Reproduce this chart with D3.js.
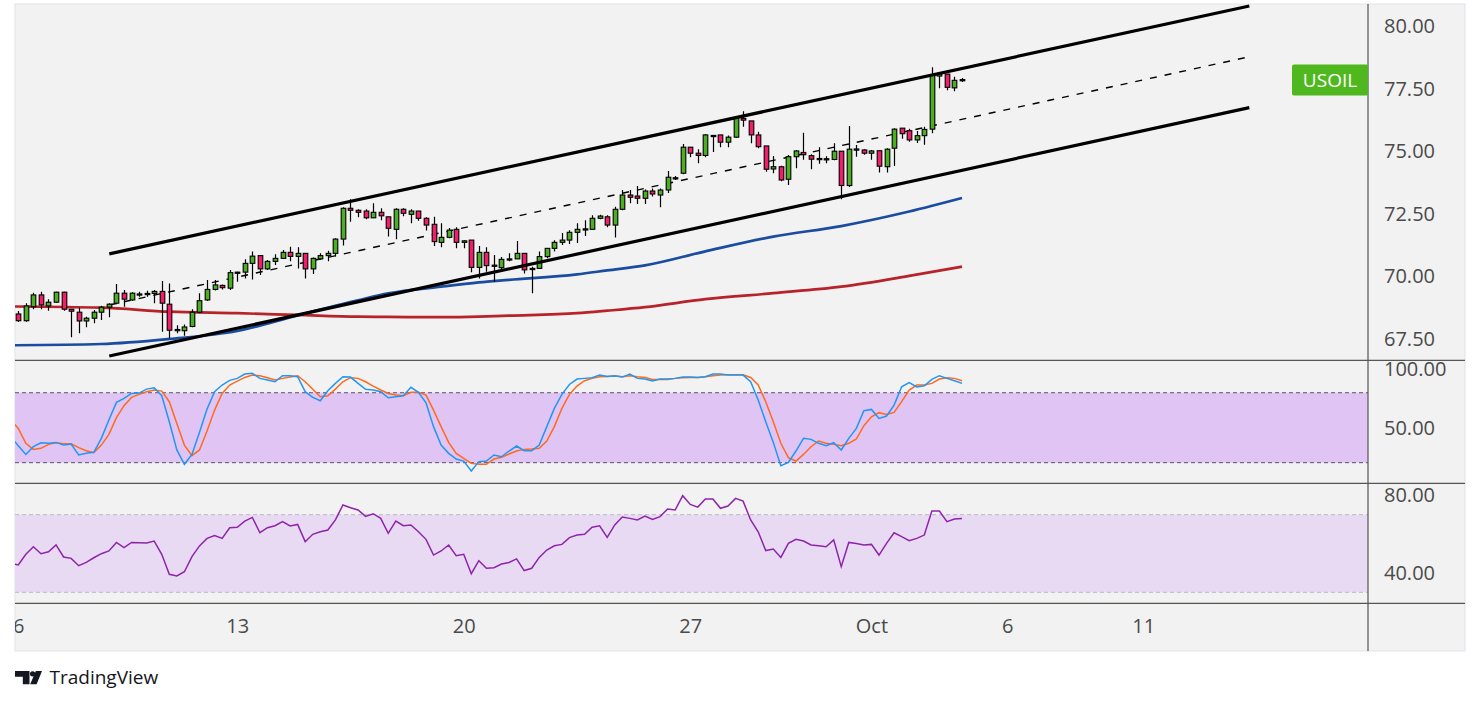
<!DOCTYPE html>
<html><head><meta charset="utf-8">
<script src="https://cdn.jsdelivr.net/npm/d3@7"></script>
<style>
html,body{margin:0;padding:0;background:#ffffff;}
svg{display:block;font-family:"Open Sans","Noto Sans",sans-serif;}
</style></head>
<body>
<svg id="chart" width="1479" height="704"></svg>
<script>
// ---------------- DATA ----------------
const symbol = "USOIL";
// 4h candles, bar index 1..126
const opens = [68.50,68.23,68.79,69.26,68.82,68.97,69.37,68.69,68.57,68.22,68.33,68.57,68.77,68.93,69.33,69.06,69.28,69.30,69.32,69.40,
68.89,67.88,67.83,68.00,68.57,69.06,69.48,69.64,69.53,70.15,70.17,70.52,70.83,70.30,70.60,70.72,70.96,70.80,70.92,70.30,
70.70,70.83,70.92,71.49,72.72,72.64,72.61,72.34,72.56,72.38,71.88,72.68,72.48,72.61,72.32,72.08,71.36,71.56,71.88,71.36,
71.45,70.36,70.96,70.43,70.35,70.68,70.70,70.92,70.30,70.32,70.79,71.12,71.36,71.45,71.76,71.88,71.88,72.32,72.38,72.05,
72.68,73.25,73.21,73.12,73.41,73.25,73.45,73.93,74.12,75.16,74.92,74.83,75.63,75.65,75.36,75.56,76.31,76.21,75.65,75.21,
74.29,74.38,73.88,74.78,74.95,74.82,74.70,74.69,74.67,75.00,73.63,75.08,75.05,74.92,75.02,74.38,75.12,75.92,75.82,75.45,
75.62,75.88,78.00,78.08,77.53,77.84];
const highs = [68.62,68.93,69.35,69.39,69.09,69.39,69.39,68.70,68.75,68.39,68.66,68.83,68.93,69.70,69.46,69.37,69.39,69.43,69.46,69.82,
69.72,68.05,68.08,68.69,69.33,69.86,69.86,69.68,70.26,70.19,70.68,70.99,70.83,70.65,70.88,71.05,71.18,71.16,70.92,70.75,
70.92,71.02,71.52,72.76,73.08,72.68,72.68,72.92,72.72,72.38,72.72,72.72,72.68,72.61,72.36,72.38,72.12,71.93,71.96,71.44,
71.45,71.21,71.16,70.85,70.77,70.92,71.41,70.92,70.39,70.99,71.12,71.44,71.73,71.84,72.12,72.24,72.44,72.46,72.44,72.78,
73.45,73.45,73.61,73.47,73.51,73.51,74.21,74.01,75.29,75.16,75.08,75.69,75.65,75.65,75.63,76.35,76.60,76.21,75.78,75.21,
74.81,74.42,74.85,75.05,75.74,74.88,75.16,74.80,75.32,75.00,76.01,75.25,75.08,75.05,75.02,75.12,75.92,75.92,75.90,75.81,
75.98,78.35,78.11,78.08,77.97,77.92];
const lows = [68.18,68.19,68.69,68.69,68.63,68.95,68.63,67.57,67.73,67.97,68.13,68.26,68.37,68.89,68.79,69.02,69.19,69.19,68.93,67.79,
67.53,67.73,67.63,67.97,68.53,69.02,69.44,69.48,69.46,69.79,69.92,69.88,70.06,70.26,70.46,70.69,70.61,70.32,69.92,70.10,
70.65,70.61,70.79,71.23,72.18,72.36,72.28,72.34,72.24,71.59,71.48,72.40,72.12,72.22,71.83,71.21,71.16,71.52,71.12,71.12,
70.17,69.92,70.19,69.79,70.26,70.61,70.70,70.12,69.33,70.30,70.72,70.99,71.25,71.29,71.33,71.61,71.86,72.28,71.96,71.55,
72.64,72.92,72.89,72.89,73.19,72.76,73.33,73.85,74.08,74.76,74.52,74.76,74.97,75.16,75.16,75.53,75.98,75.32,75.12,74.18,
74.12,73.80,73.65,74.32,74.66,74.28,74.50,74.52,74.64,73.08,73.57,74.78,74.86,74.66,74.15,74.15,74.41,75.50,75.38,75.33,
75.26,75.72,77.51,77.43,77.39,77.76];
const closes = [68.23,68.82,69.26,68.86,68.97,69.37,68.69,68.61,68.22,68.33,68.57,68.77,68.89,69.33,69.09,69.33,69.30,69.32,69.40,68.93,
67.85,67.83,67.98,68.57,69.03,69.48,69.66,69.55,70.15,70.17,70.52,70.81,70.30,70.60,70.72,70.96,70.80,70.92,70.30,70.72,
70.83,70.92,71.49,72.72,72.64,72.56,72.34,72.56,72.42,71.92,72.68,72.52,72.61,72.32,72.05,71.39,71.56,71.85,71.36,71.42,
70.36,70.96,70.43,70.45,70.68,70.70,70.92,70.26,70.32,70.79,71.12,71.36,71.45,71.76,71.88,71.90,72.32,72.41,72.05,72.68,
73.25,73.16,73.12,73.41,73.29,73.45,73.96,73.94,75.16,74.92,74.83,75.65,75.62,75.36,75.56,76.31,76.24,75.65,75.18,74.28,
74.38,73.85,74.78,75.01,74.86,74.68,74.71,74.70,75.00,73.63,75.08,75.09,74.92,75.01,74.40,75.08,75.88,75.70,75.45,75.62,
75.87,78.04,78.08,77.55,77.83,77.86];

// moving averages, read at selected bars
const maBars  = [0,12,21,30,38,46,50,57,62,66,75,79,84,92,101,110,119,126];
const maBlue  = [67.25,67.30,67.50,67.82,68.44,69.04,69.32,69.59,69.76,69.86,70.08,70.24,70.44,71.00,71.59,72.01,72.59,73.13];
const maRed   = [68.80,68.75,68.59,68.53,68.46,68.39,68.38,68.37,68.39,68.43,68.53,68.63,68.77,69.09,69.33,69.59,70.02,70.39];

// channel (drawn trend lines), endpoints as [bar, price]
const channelBars = [13.05, 164.05];
const channelUpper = [70.90, 80.80];
const channelLower = [66.82, 76.74];
const channelMid   = [68.86, 78.77];

// indicators, bar index 0..126
const stochK = [42,34.6,27.1,33.7,37.1,36.6,37.4,35.1,36,26.6,28,28.9,40.9,56.6,71.7,75.1,79.4,79.7,83.1,84.3,77.4,
55.1,30.9,18.6,27.1,46,66,80.9,86.6,90.6,92.3,96,96.6,92.3,90.9,89.4,94.6,94.6,93.7,80.9,76,
73.1,81.7,88,93.7,93.4,88,82.9,82.3,80.9,75.7,76.6,77.4,84.6,80.3,71.4,50.9,35.1,28,23.1,21.4,
12.9,20.9,21.4,26.6,25.1,30,34.3,30.3,30.3,35.1,50.9,66.6,78.6,87.1,91.7,92.3,92.9,95.1,94,94.6,
93.4,96,92.3,91.7,90,91.7,91.7,92.3,93.4,93.4,93.1,93.7,96,96,95.1,95.1,95.1,89.4,73.7,55.1,
37.4,17.4,20.3,30,40.9,40,36.6,34.6,37.1,30.9,40.9,49.4,64.6,65.7,58,60,69.4,85.1,88.6,84.9,
86,91.4,94.6,92.3,90.3,88];
const stochD = [56.6,49.4,36.6,31.4,32.3,35.7,37.1,36.3,36.3,32.9,30.3,28.6,35.1,44.3,58.6,68.9,76,78.6,80.9,82.3,81.4,
72.3,53.7,35.1,26,30.9,47.1,65.1,79.4,86.6,90,93.1,95.1,94.6,92.9,90.9,92.3,93.4,94.6,89.4,82.9,
76.6,77.4,83.1,89.4,92.9,92.3,89.4,85.7,82.3,79.4,78,77.4,80.3,80.3,78,65.1,50.9,37.4,28,23.7,
19.4,18.6,18.6,23.1,24.6,27.4,30,31.4,31.7,32.3,38.6,50.9,66.6,78.6,85.7,90.3,92.3,93.7,94,94.3,
93.7,94.6,93.7,93.1,91.4,91.4,91.4,92.3,92.9,93.1,93.1,93.7,94.6,95.1,95.4,95.4,95.4,93.1,86.6,72.3,
55.1,36.6,24.3,21.4,27.1,33.7,38.6,36.6,35.7,34.6,36.6,40.3,51.7,59.4,62.9,61.4,63.1,72.3,82.3,86.6,
86.6,88,91.7,92.9,92.3,90.3];
const rsi = [45,44.1,49.6,53.5,49.9,50.9,54.4,48.2,47.5,43.7,45.4,47.8,49.9,51.3,55.7,53,55.7,55.6,55.4,56.4,49.6,
39.3,38.4,40.6,48.4,53.9,57.8,59.2,57.8,63.3,63.5,66.7,68.6,60.7,63.3,64.3,66.4,64.2,65,56.1,59.9,
61.2,62.1,67.3,75,73.6,72.4,69.1,70.5,68.1,60.4,66.7,64.3,64.7,61.2,57.3,49.2,51.3,54.4,48.9,49.6,
39.6,46.3,42.4,42.7,44.6,45.4,47.2,41.2,42.4,48,51.8,54,54.7,58.2,59.5,59.9,63.5,64.3,58.3,64.7,
68.8,68.1,67.3,69.3,67.6,69,72.9,72.4,79.8,75.3,73.9,78.1,78.1,73.3,74.5,78.4,77,67.3,61.2,51.5,
52.3,48,55.2,57.3,56.4,54.4,54,53.5,57,43.2,55.7,55.2,54.4,54.7,49.2,55.2,60.7,58.7,56.6,57.8,
59.5,71.9,71.9,66.4,67.8,68.1];

const priceTicks = [67.5,70,72.5,75,77.5,80];
const stochTicks = [50,100];
const stochBand = [20,80];
const rsiTicks = [40,80];
const rsiBand = [30,70];
const timeTickBars = [1,30,60,90,114,132,150];
const timeTickLabels = ["6","13","20","27","Oct","6","11"];
const lastPrice = 77.84;

// ---------------- LAYOUT ----------------
const L = 15, R = 1368, OUTR = 1465, TOP = 4;
const MAIN_B = 360.3, STO_B = 483.3, RSI_B = 603.3, BOT = 651;

const svg = d3.select("#chart");
const x = d3.scaleLinear().domain([0.563, 179.77]).range([L, R]);
const y = d3.scaleLinear().domain([67.5, 80]).range([339, 26]);
const ys = d3.scaleLinear().domain([0, 100]).range([486, 369.4]);
const yr = d3.scaleLinear().domain([40, 80]).range([572.9, 495.3]);

// background
svg.append("rect").attr("x", L).attr("y", TOP).attr("width", OUTR - L).attr("height", BOT - TOP)
  .attr("fill", "#f2f2f2").attr("stroke", "#e2e3ea").attr("stroke-width", 1);

const defs = svg.append("defs");
function clip(id, y0, y1) {
  defs.append("clipPath").attr("id", id).append("rect")
    .attr("x", L).attr("y", y0).attr("width", R - L).attr("height", y1 - y0);
}
clip("cMain", TOP, MAIN_B); clip("cSto", MAIN_B, STO_B); clip("cRsi", STO_B, RSI_B); clip("cTime", RSI_B, BOT);

// ---------- main panel ----------
const gMain = svg.append("g").attr("clip-path", "url(#cMain)");
const maLine = d3.line().x((d, i) => x(maBars[i])).curve(d3.curveMonotoneX);
gMain.append("path").datum(maRed).attr("d", maLine.y(d => y(d)))
  .attr("fill", "none").attr("stroke", "#b8222a").attr("stroke-width", 2.7);
gMain.append("path").datum(maBlue).attr("d", maLine.y(d => y(d)))
  .attr("fill", "none").attr("stroke", "#1a4c9f").attr("stroke-width", 2.7);

// channel lines
function chan(vals, w, dash) {
  gMain.append("line")
    .attr("x1", x(channelBars[0])).attr("y1", y(vals[0]))
    .attr("x2", x(channelBars[1])).attr("y2", y(vals[1]))
    .attr("stroke", "#000").attr("stroke-width", w)
    .attr("stroke-dasharray", dash || null);
}
chan(channelMid, 1.4, "7,8");

// candles
const candles = opens.map((o, i) => ({ i: i + 1, o, h: highs[i], l: lows[i], c: closes[i] }));
const cg = gMain.append("g").selectAll("g").data(candles).join("g");
cg.append("line").attr("x1", d => Math.round(x(d.i)) + 0.5).attr("x2", d => Math.round(x(d.i)) + 0.5)
  .attr("y1", d => y(d.h)).attr("y2", d => y(d.l)).attr("stroke", "#000").attr("stroke-width", 1.2);
cg.append("rect").attr("x", d => Math.round(x(d.i)) - 1.8).attr("width", 4.6)
  .attr("y", d => y(Math.max(d.o, d.c)))
  .attr("height", d => Math.max(1.2, Math.abs(y(d.o) - y(d.c))))
  .attr("fill", d => d.c >= d.o ? "#4caf1f" : "#f51c6a")
  .attr("stroke", "#000").attr("stroke-width", 1.1);

chan(channelUpper, 3.2);
chan(channelLower, 3.2);

// ---------- stochastic ----------
const gSto = svg.append("g").attr("clip-path", "url(#cSto)");
gSto.append("rect").attr("x", L).attr("width", R - L)
  .attr("y", ys(stochBand[1])).attr("height", ys(stochBand[0]) - ys(stochBand[1])).attr("fill", "#e0c4f4");
stochBand.forEach(v => gSto.append("line").attr("x1", L).attr("x2", R).attr("y1", ys(v)).attr("y2", ys(v))
  .attr("stroke", "#5a5466").attr("stroke-width", 1).attr("stroke-dasharray", "4,3"));
const sLine = d3.line().x((d, i) => x(i)).y(d => ys(d));
gSto.append("path").datum(stochD).attr("d", sLine).attr("fill", "none").attr("stroke", "#ff6a1c").attr("stroke-width", 1.5);
gSto.append("path").datum(stochK).attr("d", sLine).attr("fill", "none").attr("stroke", "#2196f3").attr("stroke-width", 1.5);

// ---------- RSI ----------
const gRsi = svg.append("g").attr("clip-path", "url(#cRsi)");
gRsi.append("rect").attr("x", L).attr("width", R - L)
  .attr("y", yr(rsiBand[1])).attr("height", yr(rsiBand[0]) - yr(rsiBand[1])).attr("fill", "#e8daf3");
rsiBand.forEach(v => gRsi.append("line").attr("x1", L).attr("x2", R).attr("y1", yr(v)).attr("y2", yr(v))
  .attr("stroke", "#bdb6c6").attr("stroke-width", 1).attr("stroke-dasharray", "4,3"));
gRsi.append("path").datum(rsi).attr("d", d3.line().x((d, i) => x(i)).y(d => yr(d)))
  .attr("fill", "none").attr("stroke", "#8e24aa").attr("stroke-width", 1.5);

// ---------- separators ----------
[MAIN_B, STO_B, RSI_B].forEach(v => svg.append("line").attr("x1", L).attr("x2", OUTR).attr("y1", v).attr("y2", v)
  .attr("stroke", "#555").attr("stroke-width", 1.2));
svg.append("line").attr("x1", R).attr("x2", R).attr("y1", TOP).attr("y2", BOT).attr("stroke", "#555").attr("stroke-width", 1.2);

// ---------- axes ----------
function styleAxis(g) {
  g.select(".domain").remove();
  g.selectAll("text").attr("fill", "#4a4a4a").style("font-size", "20px")
    .style("font-family", '"Open Sans","Noto Sans",sans-serif').attr("text-anchor", "start");
}
const fmt = d3.format(".2f");
svg.append("g").attr("transform", `translate(${R},0)`)
  .call(d3.axisRight(y).tickValues(priceTicks).tickFormat(fmt).tickSize(0).tickPadding(16)).call(styleAxis);
svg.append("g").attr("transform", `translate(${R},0)`)
  .call(d3.axisRight(ys).tickValues(stochTicks).tickFormat(fmt).tickSize(0).tickPadding(16)).call(styleAxis);
svg.append("g").attr("transform", `translate(${R},0)`)
  .call(d3.axisRight(yr).tickValues(rsiTicks).tickFormat(fmt).tickSize(0).tickPadding(16)).call(styleAxis);

const tAxis = svg.append("g").attr("clip-path", "url(#cTime)").append("g").attr("transform", `translate(0,${RSI_B})`)
  .call(d3.axisBottom(x).tickValues(timeTickBars).tickFormat((d, i) => timeTickLabels[i]).tickSize(0).tickPadding(16));
tAxis.select(".domain").remove();
tAxis.selectAll("text").attr("fill", "#4a4a4a").style("font-size", "20px")
  .style("font-family", '"Open Sans","Noto Sans",sans-serif');

// ---------- last price label ----------
const ly = y(lastPrice);
svg.append("rect").attr("x", 1292).attr("y", ly - 15.5).attr("width", R - 1292).attr("height", 31)
  .attr("rx", 2).attr("fill", "#4fb81f");
svg.append("text").attr("x", (1292 + R) / 2).attr("y", ly).attr("dy", "0.35em").attr("text-anchor", "middle")
  .attr("fill", "#ffffff").style("font-size", "19px").text(symbol);

// ---------- TradingView logo ----------
const logo = svg.append("g").attr("fill", "#131722");
logo.append("path").attr("d", "M15,671 H29.5 V684.3 H22.8 V676.8 H15 Z");
logo.append("circle").attr("cx", 32.6).attr("cy", 673.8).attr("r", 2.6);
logo.append("path").attr("d", "M35.8,671 H42 L36.6,684.3 H30.2 Z");
svg.append("text").attr("x", 49.5).attr("y", 684.3).attr("fill", "#131722")
  .style("font-size", "19px").style("font-family", '"Open Sans","Noto Sans",sans-serif').text("TradingView");
</script>
</body></html>
